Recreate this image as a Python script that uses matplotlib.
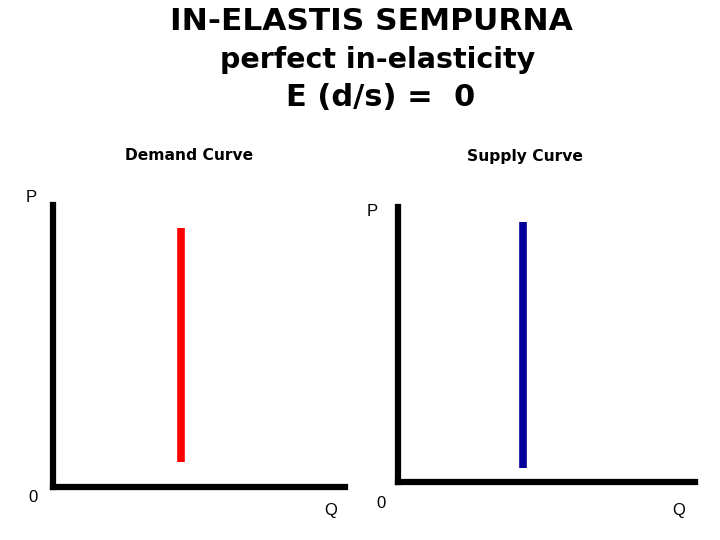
import matplotlib
matplotlib.use("Agg")
import matplotlib.pyplot as plt

plt.rcParams['font.family'] = ['Liberation Sans', 'DejaVu Sans']

# Data
panels = ["Demand Curve", "Supply Curve"]
curve_q = [4.4, 4.2]          # quantity where the vertical curve sits
curve_p_low = [0.9, 0.5]
curve_p_high = [9.2, 9.45]
colors = ["#ff0000", "#000099"]

W, H = 720, 540
fig = plt.figure(figsize=(7.2, 5.4), dpi=100)

def px_axes(x0, y0, x1, y1):
    return fig.add_axes([x0 / W, 1 - y1 / H, (x1 - x0) / W, (y1 - y0) / H])

boxes = [(53, 205, 345, 487), (398, 207, 695, 482)]
for i, (x0, y0, x1, y1) in enumerate(boxes):
    ax = px_axes(x0, y0, x1, y1)
    ax.set_xlim(0, 10)
    ax.set_ylim(0, 10)
    ax.plot([curve_q[i], curve_q[i]], [curve_p_low[i], curve_p_high[i]],
            color=colors[i], lw=5.5, solid_capstyle='butt')
    for s in ["top", "right"]:
        ax.spines[s].set_visible(False)
    for s in ["left", "bottom"]:
        ax.spines[s].set_linewidth(4.5)
        ax.spines[s].set_color("black")
    ax.set_xticks([])
    ax.set_yticks([])
    ax.patch.set_alpha(0)

def txt(x, y, s, size, weight="normal", family=None):
    kw = {}
    if family:
        kw["family"] = family
    fig.text(x / W, 1 - y / H, s, ha="center", va="center", fontsize=size,
             fontweight=weight, **kw)

bold_fam = ["DejaVu Sans"]
txt(371, 22, "IN-ELASTIS SEMPURNA", 22.5, "bold", bold_fam)
txt(378, 60, "perfect in-elasticity", 20.5, "bold", bold_fam)
txt(381, 97, "E (d/s) =  0", 22, "bold", bold_fam)
txt(189, 156, panels[0], 11.2, "bold", bold_fam)
txt(525, 156, panels[1], 11.2, "bold", bold_fam)
txt(31, 198, "P", 12)
txt(372, 211, "P", 12)
txt(33, 497, "0", 12)
txt(331, 510, "Q", 12)
txt(381, 504, "0", 12)
txt(679, 510, "Q", 12)

fig.savefig("out.png", dpi=100)
